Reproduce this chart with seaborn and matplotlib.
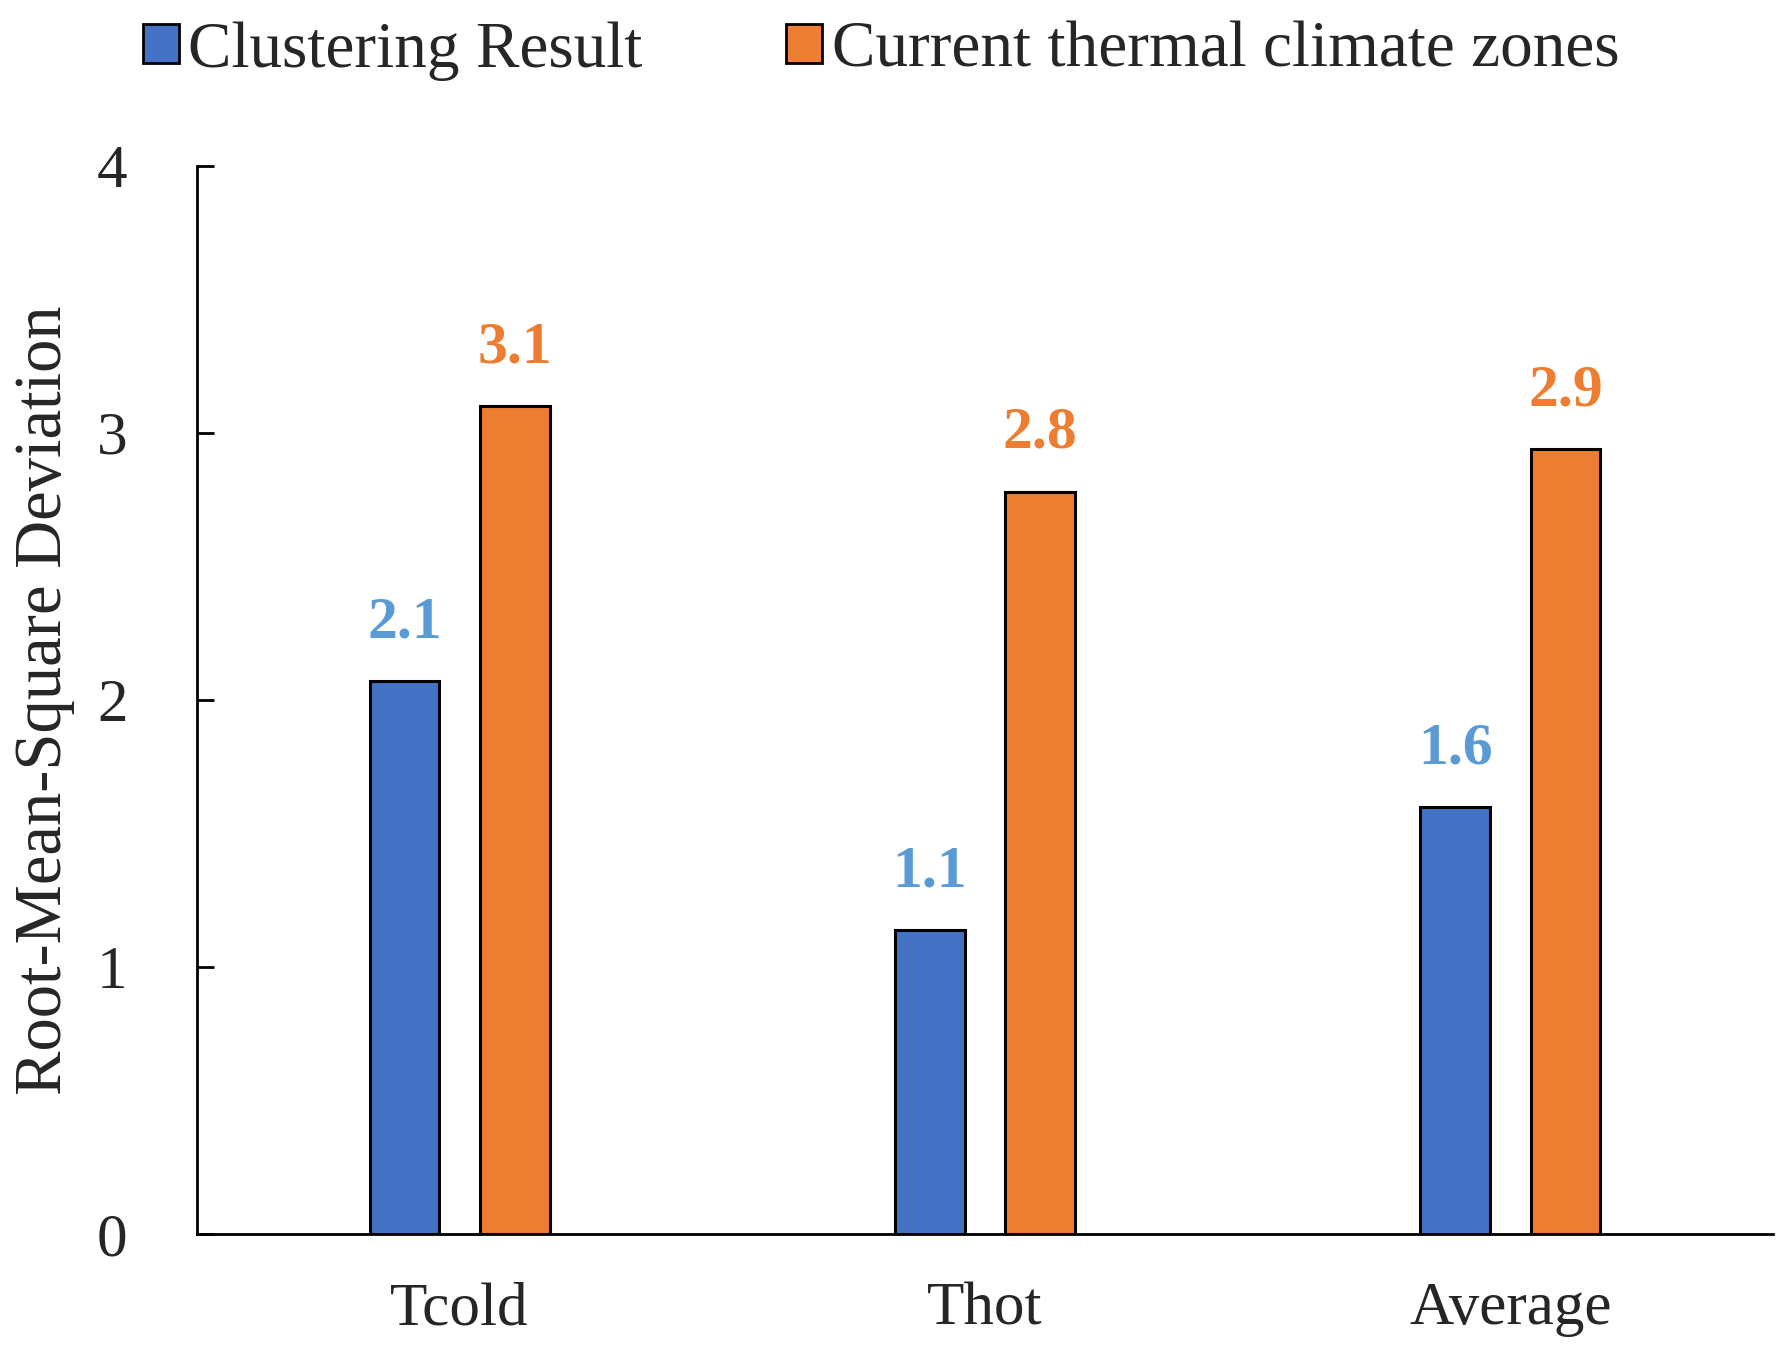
import pandas as pd
import matplotlib.pyplot as plt
import seaborn as sns
from matplotlib.patches import Patch

# data
categories = ['Tcold', 'Thot', 'Average']
series_names = ['Clustering Result', 'Current thermal climate zones']
clustering = [2.07, 1.14, 1.60]
current_zones = [3.10, 2.78, 2.94]
labels_clustering = ['2.1', '1.1', '1.6']
labels_current = ['3.1', '2.8', '2.9']
y_ticks = [0, 1, 2, 3, 4]

bar_colors = ['#4472C4', '#ED7D31']
label_colors = ['#5B9BD5', '#ED7D31']

df = pd.DataFrame({
    'Category': categories * 2,
    'Series': [series_names[0]] * 3 + [series_names[1]] * 3,
    'RMSD': clustering + current_zones,
})

sns.set_style('white')
plt.rcParams['font.family'] = ['Liberation Serif', 'DejaVu Serif']

fig = plt.figure(figsize=(17.91, 13.46), dpi=100)
ax = fig.add_axes([0.110, 0.083, 0.880, 0.794])

sns.barplot(data=df, x='Category', y='RMSD', hue='Series', order=categories,
            hue_order=series_names, palette=bar_colors, width=0.42, gap=0.37,
            edgecolor='black', linewidth=2.2, saturation=1, ax=ax, legend=False)

for cont, labs, col in zip(ax.containers, [labels_clustering, labels_current], label_colors):
    ax.bar_label(cont, labels=labs, padding=22, color=col, fontsize=43,
                 fontweight='bold')

ax.set_xlim(-0.5, 2.5)
ax.set_ylim(0, 4)
ax.set_yticks(y_ticks)
ax.set_xticks(range(len(categories)))
ax.set_xticklabels(categories)
ax.set_xticks([-0.5, 0.5, 1.5, 2.5], minor=True)
ax.tick_params(axis='x', which='major', length=0, pad=34, labelsize=44)
ax.tick_params(axis='x', which='minor', direction='in', length=14, width=2, color='black')
ax.tick_params(axis='y', direction='in', length=12, width=2, pad=50, labelsize=44,
               left=True, color='black')

ax.set_xlabel('')
ax.set_ylabel('Root-Mean-Square Deviation', fontsize=48, labelpad=16)

sns.despine(ax=ax)
for side in ['left', 'bottom']:
    ax.spines[side].set_color('black')
    ax.spines[side].set_linewidth(2)

handles = [Patch(facecolor=c, edgecolor='black', linewidth=2) for c in bar_colors]
fig.legend(handles, series_names, loc='center', bbox_to_anchor=(0.492, 0.962),
           ncol=2, frameon=False, fontsize=47, handlelength=0.55, handleheight=0.55,
           handletextpad=0.15, columnspacing=2.2)

fig.savefig('out.png', dpi=100)
